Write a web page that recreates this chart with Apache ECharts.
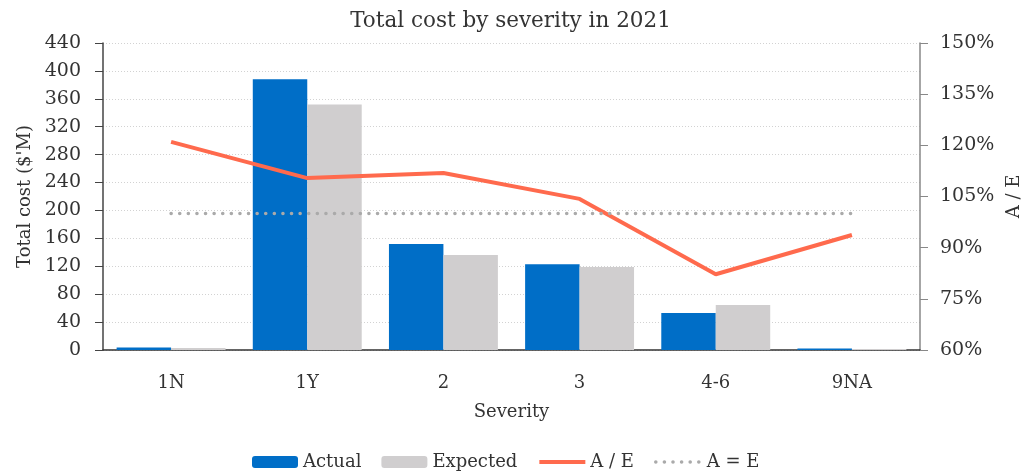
<!DOCTYPE html>
<html><head><meta charset="utf-8">
<script src="https://cdn.jsdelivr.net/npm/echarts@6/dist/echarts.min.js"></script>
<style>html,body{margin:0;padding:0;background:#fff}#c{width:1021px;height:474px}</style>
</head><body><div id="c"></div>
<script>
const categories = ['1N', '1Y', '2', '3', '4-6', '9NA'];
const actual = [3.6, 388, 152, 123, 53, 2.0];
const expected = [3.0, 352, 136, 119, 64.5, 1.5];
const aOverE = [121, 110.4, 111.9, 104.3, 82.2, 93.7];
const parity = [100, 100, 100, 100, 100, 100];
const leftTicks = {min: 0, max: 440, interval: 40};
const rightTicks = {min: 60, max: 150, interval: 15};

const FONT = '"DejaVu Serif", serif';
const TXT = '#333';
const chart = echarts.init(document.getElementById('c'), null, {renderer: 'canvas'});
chart.setOption({
  animation: false,
  textStyle: {fontFamily: FONT},
  title: {text: 'Total cost by severity in 2021', left: 'center', top: 5,
    textStyle: {fontFamily: FONT, fontSize: 21.5, fontWeight: 'normal', color: TXT}},
  legend: {bottom: -2, left: 247, itemWidth: 46, itemHeight: 12, itemGap: 20,
    textStyle: {fontFamily: FONT, fontSize: 18, color: TXT},
    data: [
      {name: 'Actual'}, {name: 'Expected'},
      {name: 'A / E', itemStyle: {opacity: 0}, lineStyle: {width: 4}},
      {name: 'A = E', itemStyle: {opacity: 0}, lineStyle: {width: 3.5}}
    ]},
  grid: {left: 103, right: 101, top: 43, bottom: 124, outerBoundsMode: 'none', containLabel: false},
  xAxis: {type: 'category', data: categories, name: 'Severity', nameLocation: 'middle', nameGap: 53,
    nameTextStyle: {fontFamily: FONT, fontSize: 18, color: TXT},
    axisLine: {lineStyle: {color: '#333', width: 1.5}}, axisTick: {show: false},
    axisLabel: {fontFamily: FONT, fontSize: 18, color: TXT, margin: 24}},
  yAxis: [
    {type: 'value', min: leftTicks.min, max: leftTicks.max, interval: leftTicks.interval,
      name: "Total cost ($'M)", nameLocation: 'middle', nameGap: 65, nameRotate: 90,
      nameTextStyle: {fontFamily: FONT, fontSize: 18, color: TXT},
      axisLine: {show: true, lineStyle: {color: '#444', width: 1.5}},
      axisTick: {show: true, length: 8, lineStyle: {color: '#444'}},
      axisLabel: {fontFamily: FONT, fontSize: 19, color: TXT, margin: 22},
      splitLine: {show: true, lineStyle: {type: [1, 2], color: '#d2d2d2', width: 1}}},
    {type: 'value', min: rightTicks.min, max: rightTicks.max, interval: rightTicks.interval,
      name: 'A / E', nameLocation: 'middle', nameGap: 80, nameRotate: 90,
      nameTextStyle: {fontFamily: FONT, fontSize: 18, color: TXT},
      axisLine: {show: true, lineStyle: {color: '#888', width: 1.5}},
      axisTick: {show: true, length: 8, lineStyle: {color: '#888'}},
      axisLabel: {fontFamily: FONT, fontSize: 19, color: TXT, margin: 20, formatter: '{value}%'},
      splitLine: {show: false}}
  ],
  series: [
    {name: 'Actual', type: 'bar', data: actual, barGap: '0%', barCategoryGap: '20%',
      itemStyle: {color: '#006EC7'}},
    {name: 'Expected', type: 'bar', data: expected, itemStyle: {color: '#D0CECF'}},
    {name: 'A / E', type: 'line', yAxisIndex: 1, data: aOverE, symbol: 'none',
      lineStyle: {color: '#FF6A4D', width: 4}, itemStyle: {color: '#FF6A4D'}},
    {name: 'A = E', type: 'line', yAxisIndex: 1, data: parity, symbol: 'none',
      lineStyle: {color: '#AAAAAA', width: 3.5, type: [0.1, 8.5], cap: 'round'},
      itemStyle: {color: '#AAAAAA'}}
  ]
});
</script></body></html>
